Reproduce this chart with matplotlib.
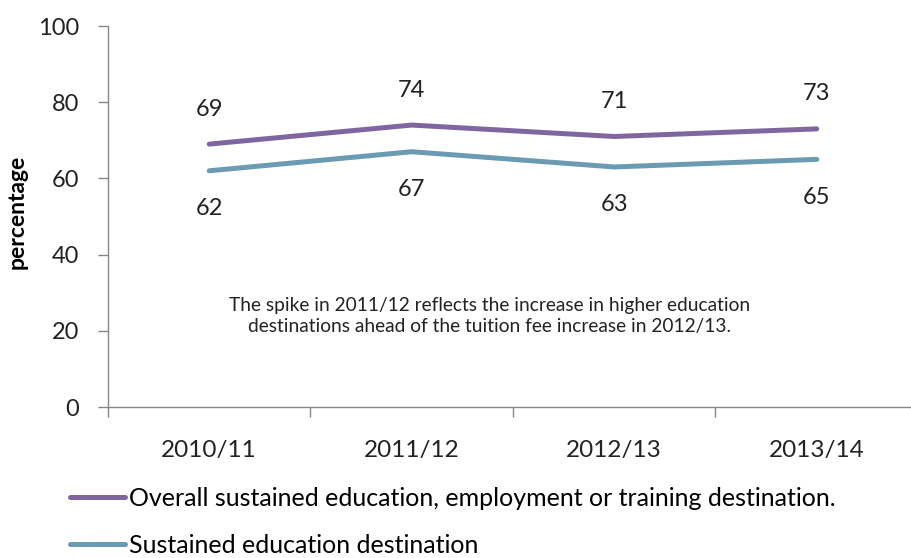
import matplotlib.pyplot as plt
import numpy as np

# data
years = ['2010/11', '2011/12', '2012/13', '2013/14']
overall = [69, 74, 71, 73]
education = [62, 67, 63, 65]
labels = ['Overall sustained education, employment or training destination.',
          'Sustained education destination']
note = ('The spike in 2011/12 reflects the increase in higher education\n'
        'destinations ahead of the tuition fee increase in 2012/13.')

plt.rcParams['font.family'] = ['Lato', 'DejaVu Sans']
purple = '#8066a0'
blue = '#6a9bb3'
grey = '#868686'
txt = '#222222'

fig = plt.figure(figsize=(9.12, 5.58), dpi=100)
ax = fig.add_axes([108 / 912, 151 / 558, 810 / 912, 381 / 558])

x = np.arange(len(years))
ax.plot(x, overall, color=purple, lw=3.6, solid_capstyle='round', label=labels[0])
ax.plot(x, education, color=blue, lw=3.6, solid_capstyle='round', label=labels[1])

# data labels: above the upper line, below the lower one
for xi, v in zip(x, overall):
    ax.annotate(str(v), (xi, v), xytext=(0, 35), textcoords='offset pixels',
                ha='center', va='center', fontsize=17, color=txt)
for xi, v in zip(x, education):
    ax.annotate(str(v), (xi, v), xytext=(0, -38), textcoords='offset pixels',
                ha='center', va='center', fontsize=17, color=txt)

fig.text(490 / 912, 1 - 316 / 558, note, ha='center', va='center',
         fontsize=13.8, linespacing=1.25, color=txt)

ax.set_xlim(-0.5, len(years) - 0.5)
ax.set_ylim(0, 100)
ax.set_yticks(range(0, 101, 20))
ax.set_xticks(x)
ax.set_xticklabels(years)
ax.set_xticks(np.arange(-0.5, len(years)), minor=True)
ax.tick_params(axis='x', which='major', length=0, pad=24, labelsize=17.5, labelcolor=txt)
ax.tick_params(axis='x', which='minor', length=7, color=grey, width=1)
ax.tick_params(axis='y', length=7, color=grey, width=1, pad=14, labelsize=17, labelcolor=txt)

for s in ['top', 'right']:
    ax.spines[s].set_visible(False)
for s in ['left', 'bottom']:
    ax.spines[s].set_color(grey)
    ax.spines[s].set_linewidth(1)

ax.set_ylabel('percentage', fontsize=16.5, fontweight='bold')
ax.yaxis.set_label_coords(-80 / 810, 0.5 + 5 / 381)

fig.legend(loc='center left', bbox_to_anchor=(70 / 912, 1 - 522 / 558), frameon=False,
           fontsize=18, handlelength=2.2, handletextpad=0.15, labelspacing=0.95,
           borderaxespad=0, borderpad=0)

fig.savefig('out.png', dpi=100)
